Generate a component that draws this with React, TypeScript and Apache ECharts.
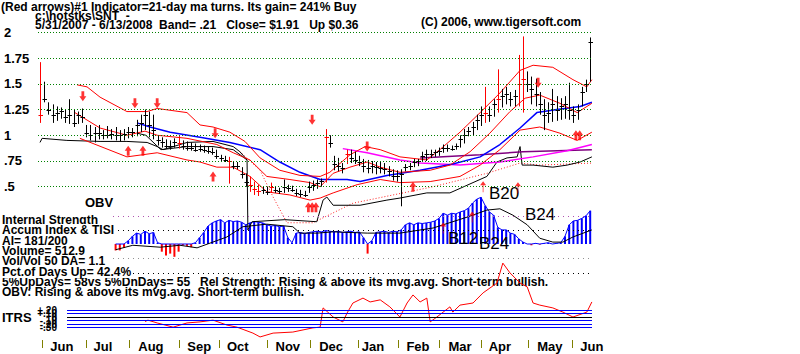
import React, { useEffect, useRef } from 'react';
import * as echarts from 'echarts';

const FONT = '"Liberation Sans", Arial, Helvetica, sans-serif';

// ---- Price bars (one bar per 2 trading days, 5/31/2007 - 6/13/2008) ----
const high = [
  1.71, 1.52, 1.32, 1.30, 1.28, 1.27, 1.25, 1.35, 1.25, 1.23,
  1.26, 1.10, 1.10, 1.08, 1.10, 1.05, 1.09, 1.06, 1.08, 1.05,
  1.06, 1.08, 1.07, 1.15, 1.20, 1.25, 1.23, 1.20, 1.00, 0.98,
  0.96, 0.95, 0.97, 1.00, 0.95, 0.94, 0.93, 0.92, 0.91, 0.90,
  0.89, 0.88, 0.86, 0.81, 0.80, 0.79, 0.75, 0.74, 0.69, 0.63,
  0.60, 0.55, 0.52, 0.50, 0.50, 0.54, 0.50, 0.49, 0.57, 0.52,
  0.51, 0.48, 0.47, 0.46, 0.55, 0.56, 0.57, 0.58, 1.06, 1.00,
  0.80, 0.78, 0.73, 0.86, 0.86, 0.84, 0.80, 0.77, 0.76, 0.75,
  0.74, 0.74, 0.73, 0.70, 0.67, 0.66, 0.67, 0.72, 0.73, 0.77,
  0.77, 0.84, 0.86, 0.86, 0.86, 0.88, 0.91, 0.91, 0.90, 0.92,
  1.00, 1.06, 1.08, 1.13, 1.20, 1.28, 1.47, 1.28, 1.35, 1.64,
  1.45, 1.47, 1.42, 1.44, 1.78, 1.96, 1.62, 1.57, 1.55, 1.42,
  1.35, 1.32, 1.45, 1.38, 1.36, 1.38, 1.51, 1.28, 1.30, 1.47,
  1.54, 1.95,
];
const low = [
  1.12, 1.32, 1.20, 1.12, 1.14, 1.16, 1.12, 1.11, 1.08, 1.11,
  1.12, 0.98, 0.95, 0.93, 0.96, 0.96, 0.97, 0.96, 0.95, 0.94,
  0.95, 0.97, 0.98, 0.99, 1.03, 1.05, 0.98, 0.96, 0.90, 0.88,
  0.87, 0.86, 0.88, 0.87, 0.86, 0.85, 0.85, 0.84, 0.84, 0.83,
  0.82, 0.81, 0.77, 0.74, 0.74, 0.53, 0.67, 0.67, 0.58, 0.50,
  0.45, 0.42, 0.41, 0.43, 0.42, 0.44, 0.44, 0.43, 0.44, 0.45,
  0.45, 0.41, 0.40, 0.40, 0.44, 0.46, 0.48, 0.50, 0.54, 0.88,
  0.66, 0.65, 0.63, 0.72, 0.73, 0.72, 0.70, 0.64, 0.63, 0.63,
  0.62, 0.63, 0.62, 0.60, 0.56, 0.55, 0.31, 0.65, 0.66, 0.69,
  0.70, 0.74, 0.75, 0.78, 0.79, 0.80, 0.83, 0.84, 0.85, 0.86,
  0.88, 0.92, 0.99, 1.00, 1.05, 1.09, 1.12, 1.13, 1.18, 1.22,
  1.27, 1.30, 1.28, 1.28, 1.28, 1.22, 1.42, 1.30, 1.28, 1.20,
  1.05, 1.12, 1.13, 1.14, 1.15, 1.16, 1.15, 1.12, 1.15, 1.28,
  1.42, 1.52,
];
const close = [
  1.20, 1.35, 1.25, 1.20, 1.22, 1.24, 1.18, 1.20, 1.12, 1.20,
  1.18, 1.02, 1.00, 1.02, 1.02, 1.00, 1.00, 1.01, 1.00, 1.00,
  1.01, 1.03, 1.03, 1.10, 1.12, 1.20, 1.10, 1.05, 0.95, 0.93,
  0.90, 0.90, 0.93, 0.92, 0.90, 0.88, 0.88, 0.86, 0.87, 0.86,
  0.85, 0.84, 0.80, 0.78, 0.76, 0.75, 0.70, 0.70, 0.62, 0.55,
  0.52, 0.48, 0.46, 0.47, 0.45, 0.50, 0.47, 0.46, 0.50, 0.49,
  0.47, 0.44, 0.43, 0.42, 0.50, 0.52, 0.54, 0.56, 0.98, 0.92,
  0.72, 0.70, 0.68, 0.82, 0.78, 0.76, 0.74, 0.70, 0.68, 0.70,
  0.69, 0.68, 0.67, 0.65, 0.60, 0.60, 0.62, 0.69, 0.70, 0.74,
  0.75, 0.80, 0.82, 0.82, 0.84, 0.85, 0.88, 0.88, 0.87, 0.90,
  0.96, 1.00, 1.04, 1.08, 1.15, 1.20, 1.22, 1.20, 1.30, 1.35,
  1.38, 1.40, 1.35, 1.38, 1.50, 1.55, 1.50, 1.45, 1.40, 1.30,
  1.20, 1.22, 1.30, 1.25, 1.28, 1.30, 1.25, 1.20, 1.25, 1.42,
  1.50, 1.91,
];
const redBars = [0, 33, 45, 50, 51, 52, 55, 68, 73, 106, 109, 114, 115];

// ---- Overlay lines on the price panel: [bar index, value on price scale] ----
const upperBand = [
  [8.8, 1.49], [11.2, 1.47], [14.3, 1.37], [20.7, 1.23], [25.5, 1.23], [27.9, 1.26],
  [35, 1.22], [38.1, 1.1], [41.2, 1.08], [45.2, 1.03], [48.8, 0.94], [52.4, 0.78],
  [57.1, 0.66], [61.9, 0.61], [66.7, 0.6], [69, 0.64], [73.8, 0.81], [77.4, 0.89],
  [81, 0.86], [85.7, 0.79], [92.1, 0.76], [95.2, 0.86], [100, 1.03], [104.8, 1.22],
  [109.5, 1.41], [114.3, 1.63], [117.4, 1.68], [122.1, 1.66], [126.9, 1.54],
  [130.2, 1.47], [131.4, 1.54],
];
const midBand = [
  [8.3, 1.22], [10.7, 1.16], [14.3, 1.07], [20.7, 1.0], [25, 1.04], [27.9, 1.0],
  [35, 0.97], [42.1, 0.91], [46, 0.83], [50, 0.76], [54, 0.6], [59.5, 0.57],
  [64.3, 0.54], [66.7, 0.5], [69.8, 0.63], [73.8, 0.69], [77.9, 0.74], [81, 0.69],
  [85.7, 0.64], [92.9, 0.66], [97.6, 0.71], [102.4, 0.84], [107.1, 1.02],
  [111.9, 1.23], [115.5, 1.36], [119, 1.39], [123.8, 1.31], [127.9, 1.22], [131.4, 1.31],
];
const lowerBand = [
  [9.5, 0.97], [20.7, 0.79], [27.9, 0.83], [35, 0.76], [38.1, 0.74], [42.1, 0.69],
  [46, 0.69], [50, 0.6], [54, 0.45], [59.5, 0.42], [64.3, 0.37], [66.7, 0.39],
  [69.8, 0.44], [75.5, 0.52], [81, 0.57], [85.7, 0.54], [92.9, 0.55], [100, 0.6],
  [104.8, 0.71], [109.5, 0.86], [114.3, 1.05], [119, 1.08], [123.8, 1.02],
  [127.9, 0.95], [131.4, 1.03],
];
const blueMa = [
  [23.1, 1.12], [26.2, 1.08], [31, 1.03], [38.1, 0.98], [45.2, 0.93], [52.4, 0.86],
  [57.1, 0.74], [61.9, 0.64], [66.7, 0.57], [73.1, 0.57], [76.2, 0.55], [82.6, 0.61],
  [90.5, 0.66], [98.3, 0.72], [104.8, 0.79], [109.5, 0.91], [114.3, 1.07],
  [118.3, 1.22], [123.1, 1.25], [128.6, 1.28], [131.4, 1.32],
];
const magentaMa = [
  [72.1, 0.87], [77.9, 0.83], [85.7, 0.76], [90.5, 0.73], [100, 0.71], [109.5, 0.74],
  [117.4, 0.79], [125.5, 0.85], [131.4, 0.91],
];
const purpleMa = [[90.5, 0.78], [104.8, 0.81], [115, 0.84], [131.4, 0.86]];
const obvLine = [
  [0, 0.93], [0.5, 0.97], [6.4, 0.95], [14.3, 0.94], [20.7, 0.94], [25.5, 0.93],
  [27.9, 0.89], [29.3, 0.86], [35, 0.93], [41.2, 0.94], [46, 0.89], [47.6, 0.84],
  [49.3, 0.76], [49.5, 0.08], [50.5, 0.16], [58.3, 0.18], [65.9, 0.16], [67.4, 0.37],
  [68.3, 0.4], [69.8, 0.32], [76.2, 0.32], [82.6, 0.37], [85.7, 0.39], [92.1, 0.44],
  [97.6, 0.44], [103.1, 0.54], [106.4, 0.6], [108.8, 0.74], [111.2, 0.78],
  [113.6, 0.79], [114.3, 0.89], [114.8, 0.71], [117.4, 0.71], [122.1, 0.69],
  [125.5, 0.71], [128.6, 0.74], [131.4, 0.79],
];
const obvMa = [
  [47.6, 0.84], [52.4, 0.66], [55.5, 0.4], [58.8, 0.15], [65, 0.15], [74.5, 0.34],
  [93.6, 0.5], [106.4, 0.63], [114.3, 0.73], [119, 0.71], [131.4, 0.73],
];
const powerLine = [
  [23.1, 1.02], [25.2, 1.0], [28.8, 0.86], [35, 0.89], [41.2, 0.89], [46, 0.86], [49.3, 0.76],
];

const downArrows = [
  [10.2, 1.38], [22.6, 1.31], [27.9, 1.31], [41.7, 1.02], [64.8, 1.15], [77.9, 0.89], [118.6, 1.51],
];
const upArrows = [
  [21, 0.85], [24.5, 0.85], [41.2, 0.6], [88.8, 0.5], [63.9, 0.3], [64.8, 0.3], [65.7, 0.3],
  [127.6, 1.0], [128.5, 1.0],
];
const thinArrowsPrice = [[105.5, 0.5], [113.8, 0.49]];
const thinArrowsAccum = [[96, 0.25], [102.9, 0.42]];

// ---- Accumulation index (histogram) and TISI ----
const accumStart = 18;
const accum = [
  -0.1, -0.1, -0.06, 0.05, 0.12, 0.17, 0.15, 0.2, 0.16, 0.18,
  0.02, -0.12, -0.18, -0.15, -0.2, -0.12, -0.02, -0.03, -0.05, 0.02,
  0.1, 0.18, 0.28, 0.33, 0.36, 0.38, 0.33, 0.37, 0.35, 0.36,
  0.34, 0.3, 0.33, 0.35, 0.34, 0.33, 0.3, 0.28, 0.29, 0.27,
  0.28, 0.1, 0.02, 0.17, 0.18, 0.16, 0.18, 0.19, 0.2, 0.19,
  0.21, 0.2, 0.19, 0.2, 0.18, 0.19, 0.2, 0.18, 0.19, 0.1,
  -0.15, 0.05, 0.18, 0.19, 0.2, 0.18, 0.2, 0.19, 0.22, 0.3,
  0.33, 0.3, 0.33, 0.32, 0.33, 0.34, 0.36, 0.4, 0.48, 0.45,
  0.48, 0.47, 0.5, 0.52, 0.56, 0.64, 0.7, 0.73, 0.6, 0.5,
  0.45, 0.26, 0.22, 0.22, 0.17, 0.15, 0.08, 0.03, 0.0, -0.02,
  0.01, -0.01, 0.01, 0.02, 0.0, 0.01, 0.02, 0.12, 0.3, 0.36,
  0.37, 0.4, 0.44, 0.52,
];
const tisi = [
  [18, -0.09], [22.1, -0.02], [28.6, -0.05], [33.3, -0.02], [37.4, -0.06], [44.5, 0.11],
  [48.3, 0.27], [54, 0.31], [60.2, 0.27], [61.9, 0.17], [66, 0.17], [69.8, 0.19],
  [77.9, 0.17], [85.7, 0.17], [93.6, 0.25], [101.7, 0.42], [106.4, 0.53], [109.5, 0.55],
  [112.6, 0.45], [116, 0.3], [119, 0.09], [122.1, 0.03], [124.5, 0.03], [126.9, 0.11],
  [131.4, 0.22],
];

// ---- ITRS ----
const itrs = [
  [25, -0.13], [25.7, -0.09], [27.9, -0.17], [31.7, -0.29], [35, -0.17], [38.1, -0.14],
  [41.2, -0.09], [44.5, -0.23], [46.9, -0.29], [50.7, -0.46], [52.4, -0.57], [55.5, -0.46],
  [60.2, -0.43], [65, -0.31], [66.7, -0.29], [67.4, 0.26], [69.8, 0], [72.1, -0.14],
  [73.1, 0.11], [74.5, 0.4], [76.9, 0.54], [78.6, 0.43], [81, 0.49], [83.3, 0.29],
  [85.7, 0], [87.4, 0.4], [88.8, 0.63], [90.5, 0.43], [92.1, 0.54], [92.9, -0.14],
  [94.5, 0], [97.6, 0.29], [98.3, 0.14], [100, 0.34], [103.1, 0.4], [105.5, 0.69],
  [108.8, 0.97], [110.2, 1.54], [111.9, 1.26], [114.3, 0.97], [116, 0.86], [117.4, 0.4],
  [119, 0.34], [122.1, 0.26], [124.5, 0.14], [126.9, 0], [130.2, 0.14], [131.4, 0.43],
];

// ---- Axis / reference values ----
const priceGridValues = [0.5, 0.75, 1, 1.25, 1.5, 1.75, 2];
const itrsLevels = [0.2, 0.1, 0, -0.1, -0.2, -0.3];
const accumLevels = [0.44, 0.22, -0.23, -0.45];
const monthStarts = [0.5, 11, 21.2, 33.1, 42.6, 54, 64.3, 75.7, 85.2, 95, 105, 116.2, 126.7];
const monthLabelPos = [5.2, 15, 26.4, 37.9, 47.1, 59, 69.3, 79.3, 90, 100, 109.5, 121.4, 131.4];
const monthNames = ['Jun', 'Jul', 'Aug', 'Sep', 'Oct', 'Nov', 'Dec', 'Jan', 'Feb', 'Mar', 'Apr', 'May', 'Jun'];

const infoLines = [
  'Internal Strength',
  'Accum Index & TISI',
  'AI= 181/200',
  'Volume= 512.9',
  'Vol/Vol 50 DA= 1.1',
  'Pct.of Days Up= 42.4%',
];

const X_MAX = 131.43;

function buildOption(): any {
  const bars = high.map((h, j) => [j, h, low[j], close[j], redBars.includes(j) ? 1 : 0]);
  const lineBase = (data: number[][], color: string, width = 1, extra: any = {}) => ({
    type: 'line',
    xAxisIndex: 0,
    yAxisIndex: 0,
    data,
    symbol: 'none',
    silent: true,
    lineStyle: { color, width },
    z: 3,
    ...extra,
  });
  const txt = (text: string, x: number, y: number, o: any = {}) => ({
    type: 'text',
    x,
    y,
    z: o.z ?? 5,
    silent: true,
    style: {
      text,
      fill: '#000',
      fontFamily: FONT,
      fontSize: o.fontSize ?? 12,
      fontWeight: o.fontWeight ?? 'bold',
      verticalAlign: 'middle',
      backgroundColor: o.bg,
    },
  });
  const infoY = [220, 230, 241, 251, 261, 272];

  return {
    animation: false,
    backgroundColor: '#ffffff',
    grid: [
      { left: 38, right: 208, top: 32.3, height: 205.9 },
      { left: 113, right: 208, top: 196, height: 80 },
      { left: 67, right: 208, top: 261, height: 84 },
      { left: 38, right: 208, top: 332, height: 8 },
    ],
    xAxis: [
      { type: 'value', gridIndex: 0, min: -0.476, max: X_MAX, show: false },
      { type: 'value', gridIndex: 1, min: 17.38, max: X_MAX, show: false },
      { type: 'value', gridIndex: 2, min: 6.43, max: X_MAX, show: false },
      {
        type: 'value', gridIndex: 3, min: -0.476, max: X_MAX, position: 'bottom',
        axisLine: { show: false },
        splitLine: { show: false },
        axisTick: { show: true, customValues: monthStarts, length: 8, lineStyle: { color: '#808000', width: 1 } },
        axisLabel: {
          show: true,
          customValues: monthLabelPos,
          margin: 0,
          color: '#000',
          fontFamily: FONT,
          fontSize: 13,
          fontWeight: 'bold',
          formatter: (v: number) => {
            let best = 0;
            monthLabelPos.forEach((p, i) => {
              if (Math.abs(p - v) < Math.abs(monthLabelPos[best] - v)) best = i;
            });
            return monthNames[best];
          },
        },
      },
    ],
    yAxis: [
      {
        type: 'value', gridIndex: 0, min: 0, max: 2, interval: 0.25,
        axisLine: { show: false }, axisTick: { show: false }, splitLine: { show: false },
        axisLabel: {
          show: true, align: 'left', margin: 34, color: '#000',
          fontFamily: FONT, fontSize: 13, fontWeight: 'bold',
          formatter: (v: number) => (v < 0.49 ? '' : String(v).replace(/^0/, '')),
        },
      },
      { type: 'value', gridIndex: 1, min: -0.5, max: 0.75, show: false },
      {
        type: 'value', gridIndex: 2, min: -0.8, max: 1.6, interval: 0.1,
        axisLine: { show: false }, axisTick: { show: false }, splitLine: { show: false },
        axisLabel: {
          show: true, align: 'right', margin: 10, color: '#000',
          fontFamily: FONT, fontSize: 10, fontWeight: 'bold',
          formatter: (v: number) => {
            const r = Math.round(v * 100) / 100;
            if (r > 0.21 || r < -0.31) return '';
            if (r === 0) return '0';
            const s = Math.abs(r).toFixed(2).replace(/^0/, '');
            return (r > 0 ? '+' : '-') + s;
          },
        },
      },
      { type: 'value', gridIndex: 3, min: 0, max: 1, show: false },
    ],
    series: [
      // Price grid reference lines
      {
        type: 'line', xAxisIndex: 0, yAxisIndex: 0, data: [[0, 1], [1, 1]], symbol: 'none',
        lineStyle: { opacity: 0 }, silent: true, z: 1,
        markLine: {
          silent: true, symbol: 'none', label: { show: false },
          lineStyle: { color: '#008000', type: [1, 2], width: 1 },
          data: priceGridValues.map((v) => ({ yAxis: v })),
        },
      },
      // Accum panel reference lines
      {
        type: 'line', xAxisIndex: 1, yAxisIndex: 1, data: [[20, 0], [21, 0]], symbol: 'none',
        lineStyle: { opacity: 0 }, silent: true, z: 1,
        markLine: {
          silent: true, symbol: 'none', label: { show: false },
          data: accumLevels.map((v, i) => ({
            yAxis: v,
            lineStyle: { color: i === 0 ? '#b050b0' : i === 2 ? '#909090' : '#000000', type: [1, 4], width: 1 },
          })),
        },
      },
      // ITRS reference lines
      {
        type: 'line', xAxisIndex: 2, yAxisIndex: 2, data: [[20, 0], [21, 0]], symbol: 'none',
        lineStyle: { opacity: 0 }, silent: true, z: 1,
        markLine: {
          silent: true, symbol: 'none', label: { show: false },
          data: itrsLevels.map((v) => ({
            yAxis: v,
            lineStyle: { color: v === 0 ? '#000000' : '#0000ff', type: 'solid', width: 1 },
          })),
        },
      },
      // Accumulation histogram
      {
        type: 'bar', xAxisIndex: 1, yAxisIndex: 1, barWidth: 2, silent: true, z: 2,
        data: accum.map((v, i) => ({ value: [accumStart + i, v], itemStyle: { color: v >= 0 ? '#0000ff' : '#ff0000' } })),
      },
      {
        type: 'line', xAxisIndex: 1, yAxisIndex: 1, symbol: 'none', silent: true, z: 2,
        lineStyle: { color: '#0000ff', width: 1 },
        data: accum.map((v, i) => [accumStart + i, Math.max(v, 0)]),
      },
      {
        type: 'line', xAxisIndex: 1, yAxisIndex: 1, symbol: 'none', silent: true, z: 3,
        lineStyle: { color: '#000000', width: 1 }, data: tisi,
      },
      {
        type: 'scatter', xAxisIndex: 1, yAxisIndex: 1, silent: true, z: 4,
        symbol: 'path://M5,0L9,5H5.5V14H4.5V5H1Z', symbolSize: [6, 11],
        itemStyle: { color: '#ff0000' }, data: thinArrowsAccum,
      },
      // ITRS
      {
        type: 'line', xAxisIndex: 2, yAxisIndex: 2, symbol: 'none', silent: true, z: 3,
        lineStyle: { color: '#ff0000', width: 1 }, data: itrs,
      },
      // Price overlays
      lineBase(obvMa, '#ff2020', 1, { lineStyle: { color: '#ff2020', width: 1, type: [1, 2] } }),
      lineBase(obvLine, '#000000', 1),
      lineBase(powerLine, '#000000', 1),
      lineBase(purpleMa, '#800080', 1.5),
      lineBase(magentaMa, '#ff00ff', 1.5),
      lineBase(blueMa, '#0000ff', 1.5),
      lineBase(lowerBand, '#ff0000', 1),
      lineBase(midBand, '#ff0000', 1),
      lineBase(upperBand, '#ff0000', 1),
      {
        type: 'custom', xAxisIndex: 0, yAxisIndex: 0, silent: true, z: 4,
        encode: { x: 0, y: [1, 2] },
        data: bars,
        renderItem: (params: any, api: any) => {
          const x = api.value(0);
          const top = api.coord([x, api.value(1)]);
          const bot = api.coord([x, api.value(2)]);
          const cl = api.coord([x, api.value(3)]);
          const color = api.value(4) ? '#ff0000' : '#000000';
          const px = Math.round(top[0]) + 0.5;
          const cy = Math.round(cl[1]) + 0.5;
          return {
            type: 'group',
            children: [
              { type: 'line', shape: { x1: px, y1: top[1], x2: px, y2: bot[1] }, style: { stroke: color, lineWidth: 1 } },
              { type: 'line', shape: { x1: px - 2, y1: cy, x2: px + 2.5, y2: cy }, style: { stroke: color, lineWidth: 1 } },
            ],
          };
        },
      },
      {
        type: 'scatter', xAxisIndex: 0, yAxisIndex: 0, silent: true, z: 5,
        symbol: 'path://M3,0H7V6H10L5,12L0,6H3Z', symbolSize: [7, 10],
        itemStyle: { color: '#ff0000' }, data: downArrows,
      },
      {
        type: 'scatter', xAxisIndex: 0, yAxisIndex: 0, silent: true, z: 5,
        symbol: 'path://M5,0L10,6H7V12H3V6H0Z', symbolSize: [7, 10],
        itemStyle: { color: '#ff0000' }, data: upArrows,
      },
      {
        type: 'scatter', xAxisIndex: 0, yAxisIndex: 0, silent: true, z: 5,
        symbol: 'path://M5,0L9,5H5.5V14H4.5V5H1Z', symbolSize: [6, 11],
        itemStyle: { color: '#ff0000' }, data: thinArrowsPrice,
      },
    ],
    graphic: [
      txt('(Red arrows)#1 Indicator=21-day ma turns. Its gain= 241% Buy', 1, 7),
      txt('c:\\hotstks\\SNT  -', 35, 16),
      txt('5/31/2007 - 6/13/2008  Band= .21   Close= $1.91   Up $0.36', 35, 25),
      txt('(C) 2006, www.tigersoft.com', 421, 22),
      txt('OBV', 85, 202, { fontSize: 13 }),
      ...infoLines.map((t, i) => txt(t, 2, infoY[i], { fontSize: 12, bg: '#ffffff', z: 10 + i })),
      txt('5%UpDays= 58vs 5%DnDays= 55', 2, 282, { fontSize: 12 }),
      txt('Rel Strength: Rising & above its mvg.avg. Short-term bullish.', 200, 282, { fontSize: 12, z: 1 }),
      txt('OBV: Rising & above its mvg.avg. Short-term bullish.', 2, 292, { fontSize: 12, z: 1 }),
      txt('ITRS', 2, 317, { fontSize: 13 }),
      txt('B20', 489, 193, { fontSize: 17, fontWeight: 'normal' }),
      txt('B24', 525, 214, { fontSize: 17, fontWeight: 'normal' }),
      txt('B12', 448, 238, { fontSize: 17, fontWeight: 'normal' }),
      txt('B24', 479, 243, { fontSize: 17, fontWeight: 'normal' }),
      txt('Closing Power: Above its mvg.avg.   Short-term bullish.   Currently OK to hold.', 1, 358, { fontSize: 13 }),
    ],
  };
}

export default function App() {
  const ref = useRef<HTMLDivElement>(null);
  useEffect(() => {
    document.body.style.margin = '0';
    if (!ref.current) return;
    const chart = echarts.init(ref.current, undefined, { renderer: 'svg' });
    chart.setOption(buildOption());
    return () => chart.dispose();
  }, []);
  return (
    <div
      ref={ref}
      style={{ position: 'fixed', left: 0, top: 0, width: 800, height: 354, background: '#fff' }}
    />
  );
}
